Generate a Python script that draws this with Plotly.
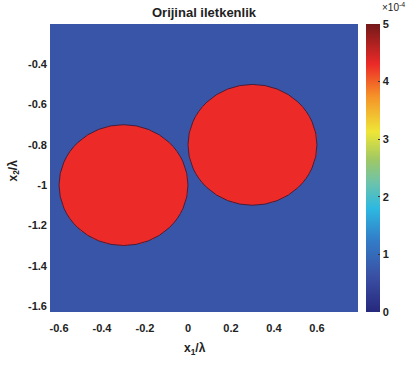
import numpy as np
import plotly.graph_objects as go

# Conductivity map: two circular inclusions in a uniform background
x_range = [-0.642, 0.791]
y_range = [-1.63, -0.20]
circle_cx = [-0.30, 0.30]
circle_cy = [-1.00, -0.80]
circle_r = [0.30, 0.30]
circle_value = [4.3e-4, 4.3e-4]
background_value = 0.7e-4
cbar_ticks = [0, 1e-4, 2e-4, 3e-4, 4e-4, 5e-4]
cbar_labels = ["0", "1", "2", "3", "4", "5"]

n = 360
xs = np.linspace(x_range[0], x_range[1], n)
ys = np.linspace(y_range[0], y_range[1], n)
X, Y = np.meshgrid(xs, ys)
Z = np.full_like(X, background_value)
for cx, cy, r, v in zip(circle_cx, circle_cy, circle_r, circle_value):
    Z[(X - cx) ** 2 + (Y - cy) ** 2 <= r ** 2] = v

# jet-like colour scale
jet = [
    [0.0, "rgb(38,40,125)"],
    [0.125, "rgb(58,80,164)"],
    [0.25, "rgb(50,125,200)"],
    [0.36, "rgb(45,185,225)"],
    [0.45, "rgb(110,195,170)"],
    [0.53, "rgb(160,200,100)"],
    [0.625, "rgb(238,230,55)"],
    [0.75, "rgb(245,145,40)"],
    [0.86, "rgb(236,42,40)"],
    [1.0, "rgb(115,25,25)"],
]

font = "Liberation Sans, Arial, sans-serif"

fig = go.Figure()
fig.add_trace(go.Heatmap(
    x=xs, y=ys, z=Z,
    zmin=0, zmax=5e-4,
    colorscale=jet,
    zsmooth=False,
    showscale=True,
    colorbar=dict(
        x=1.026, xanchor="left",
        y=0.5, yanchor="middle",
        len=1.0, lenmode="fraction",
        thickness=14,
        outlinewidth=0,
        tickvals=cbar_ticks, ticktext=["<b>%s</b>" % t for t in cbar_labels],
        ticks="inside", ticklen=2, tickcolor="#333",
        tickfont=dict(family=font, size=11, color="#222"),
        xpad=0, ypad=0,
    ),
    hoverinfo="skip",
))

for cx, cy, r in zip(circle_cx, circle_cy, circle_r):
    fig.add_shape(type="circle", xref="x", yref="y",
                  x0=cx - r, x1=cx + r, y0=cy - r, y1=cy + r,
                  line=dict(color="rgb(70,30,60)", width=1))

fig.update_layout(
    width=409, height=365,
    margin=dict(l=50, r=51, t=24, b=53),
    paper_bgcolor="white", plot_bgcolor="white",
    font=dict(family=font, color="#222"),
    title=dict(text="<b>Orijinal iletkenlik</b>", x=0.5, xref="paper",
               y=0.965, yanchor="middle",
               font=dict(family=font, size=13, color="#222")),
    xaxis=dict(range=x_range, showgrid=False, zeroline=False,
               tickvals=[-0.6, -0.4, -0.2, 0, 0.2, 0.4, 0.6],
               ticktext=["<b>-0.6</b>", "<b>-0.4</b>", "<b>-0.2</b>", "<b>0</b>",
                         "<b>0.2</b>", "<b>0.4</b>", "<b>0.6</b>"],
               tickfont=dict(size=11), ticks="", ticklen=0,
               ticklabelstandoff=8),
    yaxis=dict(range=y_range, showgrid=False, zeroline=False,
               tickvals=[-1.6, -1.4, -1.2, -1.0, -0.8, -0.6, -0.4],
               ticktext=["<b>-1.6</b>", "<b>-1.4</b>", "<b>-1.2</b>", "<b>-1</b>",
                         "<b>-0.8</b>", "<b>-0.6</b>", "<b>-0.4</b>"],
               tickfont=dict(size=11), ticks="", ticklen=0,
               ticklabelstandoff=2),
    annotations=[
        dict(text="<b>x<sub>1</sub>/λ</b>", xref="paper", yref="paper",
             x=0.47, y=-0.095, xanchor="center", yanchor="top",
             showarrow=False, font=dict(size=12, color="#222")),
        dict(text="<b>x<sub>2</sub>/λ</b>", xref="paper", yref="paper",
             x=-0.118, y=0.49, xanchor="center", yanchor="middle",
             textangle=-90, showarrow=False, font=dict(size=12, color="#222")),
        dict(text="×10<sup>-4</sup>", xref="paper", yref="paper",
             x=1.072, y=1.03, xanchor="left", yanchor="bottom",
             showarrow=False, font=dict(size=10, color="#222")),
    ],
)

fig.write_html("out.html")
